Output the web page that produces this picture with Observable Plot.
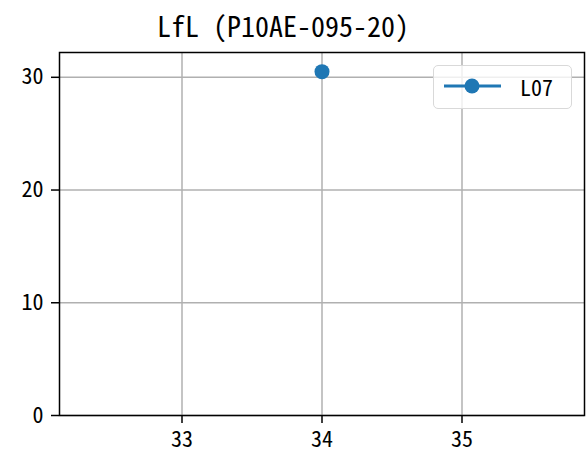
<!DOCTYPE html>
<html>
<head>
<meta charset="utf-8">
<script src="https://cdn.jsdelivr.net/npm/d3@7"></script>
<script src="https://cdn.jsdelivr.net/npm/@observablehq/plot@0.6"></script>
<style>
  html, body { margin: 0; padding: 0; background: #fff; }
  #wrap { position: relative; width: 586px; height: 457px; font-family: "Noto Sans CJK JP", "Noto Sans Mono CJK JP", "DejaVu Sans Mono", monospace; }
  #title { position: absolute; left: 0; top: 0; width: 566px; height: 42px; text-align: center; font-size: 28px; line-height: 50px; color: #000; font-family: "Noto Sans Mono CJK JP", "DejaVu Sans Mono", monospace; }
  #chart { position: absolute; left: 0; top: 42px; }
  #legend { position: absolute; left: 433px; top: 65px; width: 139px; height: 44px; border: 1.5px solid #d9d9d9; border-radius: 5px; background: rgba(255,255,255,0.8); box-sizing: border-box; }
  #legend svg { position: absolute; left: 9px; top: 8px; }
  #legend span { position: absolute; left: 86px; top: 7px; font-size: 22px; line-height: 26px; color: #000; font-family: "Noto Sans Mono CJK JP", "DejaVu Sans Mono", monospace; }
</style>
</head>
<body>
<div id="wrap">
  <div id="title">LfL (P10AE-095-20)</div>
  <div id="chart"></div>
  <div id="legend">
    <svg width="60" height="24"><line x1="1" y1="12" x2="58" y2="12" stroke="#1f77b4" stroke-width="3"/><circle cx="29" cy="12" r="7.5" fill="#1f77b4"/></svg>
    <span>L07</span>
  </div>
</div>
<script>
const seriesName = "L07";
const xValues = [34];
const yValues = [30.5];
const xTicks = [33, 34, 35];
const yTicks = [0, 10, 20, 30];

const data = xValues.map((x, i) => ({x, y: yValues[i], series: seriesName}));

const font = '"Noto Sans Mono CJK JP", "DejaVu Sans Mono", monospace';
const fmt = d => String(Math.round(d));

const chart = Plot.plot({
  width: 586,
  height: 415,
  marginTop: 10,
  marginBottom: 42,
  marginLeft: 59,
  marginRight: 2,
  style: {fontFamily: font, fontSize: "22px", color: "#000", background: "#fff"},
  x: {domain: [32.125, 35.875], label: null},
  y: {domain: [0, 32.2], label: null},
  marks: [
    Plot.gridX(xTicks, {stroke: "#b0b0b0", strokeOpacity: 1, strokeWidth: 1.5}),
    Plot.gridY(yTicks, {stroke: "#b0b0b0", strokeOpacity: 1, strokeWidth: 1.5}),
    Plot.line(data, {x: "x", y: "y", stroke: "#1f77b4", strokeWidth: 3}),
    Plot.dot(data, {x: "x", y: "y", r: 7.5, fill: "#1f77b4", stroke: null}),
    Plot.axisX(xTicks, {tickSize: 8, tickPadding: 8, strokeWidth: 1.5, fontSize: 22, tickFormat: fmt, label: null}),
    Plot.axisY(yTicks, {tickSize: 8, tickPadding: 8, strokeWidth: 1.5, fontSize: 22, tickFormat: fmt, label: null}),
    Plot.frame({stroke: "#000", strokeWidth: 1.5})
  ]
});
document.getElementById("chart").appendChild(chart);
</script>
</body>
</html>
